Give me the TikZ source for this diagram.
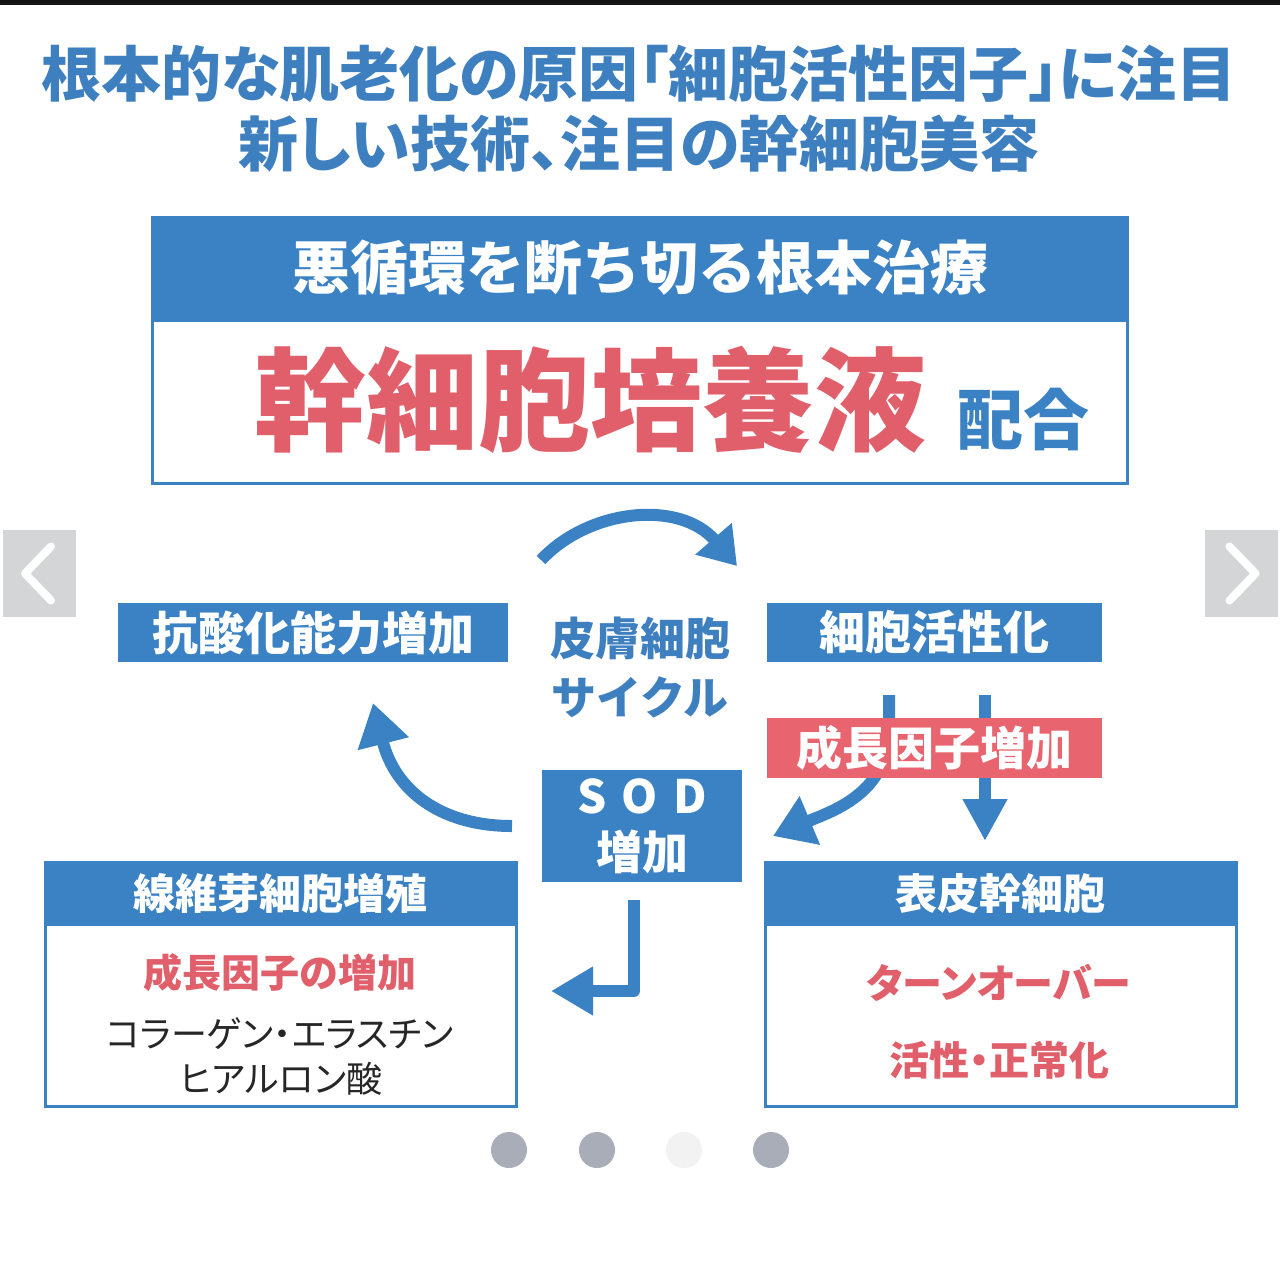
\documentclass[tikz,border=0pt]{standalone}
\usepackage{fontspec}
\setmainfont{Noto Sans CJK JP}
\usetikzlibrary{arrows.meta,calc}
\newdimen\px \px=0.5pt
\definecolor{cblue}{HTML}{3A82C4}
\definecolor{tblue}{HTML}{3D7FBF}
\definecolor{cred}{HTML}{E8656F}
\definecolor{tred}{HTML}{E05F6A}
\definecolor{navgray}{HTML}{D4D5D7}
\definecolor{dotgray}{HTML}{A9ADB8}
\pgfdeclarelayer{back}
\pgfdeclarelayer{bg}
\pgfsetlayers{back,bg,main}
\tikzset{
  fs/.style={font=\fontsize{#1}{#1}\selectfont\bfseries},
  bluebox/.style={fill=cblue, text=white, inner sep=0pt},
  redbox/.style={fill=cred, text=white, inner sep=0pt},
  bodybox/.style={fill=white, draw=cblue, line width=1.5pt, inner sep=0pt},
  flow/.style={draw=cblue, line width=6pt},
  navbtn/.style={fill=navgray, inner sep=0pt, minimum width=36.5pt, minimum height=43.5pt},
  chev/.style={draw=white, line width=4pt, line cap=round, line join=round},
  pdot/.style={circle, fill=dotgray, inner sep=0pt, minimum size=18pt},
  palt/.style={font=\fontsize{#1}{#1}\selectfont\addfontfeatures{RawFeature=+palt}}
}
\begin{document}
\begin{tikzpicture}[x=0.5pt,y=-0.5pt]
\useasboundingbox (0,0) rectangle (1280,1280);
\begin{pgfonlayer}{back}
\fill[white] (0,0) rectangle (1280,1280);
\fill[black!92] (0,0) rectangle (1280,5);
\end{pgfonlayer}

% title
\node[palt=30pt, text=tblue, inner sep=0pt] (t1) at (639,74) {\bfseries 根本的な肌老化の原因「細胞活性因子」に注目};
\node[palt=30pt, text=tblue, inner sep=0pt] (t2) at (639,144) {\bfseries 新しい技術、注目の幹細胞美容};

% main box
\node[bodybox, minimum width=975\px, minimum height=266\px] (mainbody) at (639.5,350) {};
\node[bluebox, minimum width=975\px, minimum height=105\px] (mainhead) at (639.5,269.5) {};
\node[fs=29pt, text=white, inner sep=0pt] (mainheadtxt) at (640,268) {悪循環を断ち切る根本治療};
\node[fs=56pt, text=tred, inner sep=0pt] (big) at (590,400) {幹細胞培養液};
\node[fs=33pt, text=cblue, inner sep=0pt] (mix) at (1023,420) {配合};

% cycle nodes
\node[bluebox, minimum width=390\px, minimum height=59\px, fs=23pt] (anti) at (313,632.5) {抗酸化能力増加};
\node[bluebox, minimum width=335\px, minimum height=59\px, fs=23pt] (act) at (934.5,632.5) {細胞活性化};
\node[align=center, text=tblue, fs=22.5pt, inner sep=0pt] (cyc) at (640,667) {皮膚細胞\\[7pt]サイクル};
\node[bluebox, minimum width=200\px, minimum height=112\px, fs=23pt, align=center] (sod) at (642,826) {S\,\,O\,\,D\\[5pt]増加};
\node[redbox, minimum width=335\px, minimum height=60\px, fs=23pt] (gf) at (934.5,748) {成長因子増加};

% bottom boxes
\node[bodybox, minimum width=471\px, minimum height=244\px] (fibbody) at (280.5,984) {};
\node[bluebox, minimum width=471\px, minimum height=64\px, fs=21pt] (fib) at (280.5,894) {線維芽細胞増殖};
\node[palt=19.5pt, text=tred, inner sep=0pt] (fib1) at (280,973) {\bfseries 成長因子の増加};
\node[palt=18pt, text=black!85, inner sep=0pt] (fib2) at (280,1034) {コラーゲン・エラスチン};
\node[palt=18pt, text=black!85, inner sep=0pt] (fib3) at (281,1079) {ヒアルロン酸};

\node[bodybox, minimum width=471\px, minimum height=244\px] (epibody) at (1000.5,984) {};
\node[bluebox, minimum width=471\px, minimum height=64\px, fs=21pt] (epi) at (1000.5,894) {表皮幹細胞};
\node[palt=20pt, text=tred, inner sep=0pt] (epi1) at (999,983) {\bfseries ターンオーバー};
\node[palt=20pt, text=tred, inner sep=0pt] (epi2) at (999,1060) {\bfseries 活性・正常化};

% connectors
\coordinate (arcS) at (541,560);
\coordinate (arcE) at (737,566);
\coordinate (actL) at (889,695);
\coordinate (actR) at (985,695);
\coordinate (toSod) at (773,836);
\coordinate (toEpi) at (985,841);
\coordinate (sodOutL) at (512,826);
\coordinate (toAnti) at (373,703);
\coordinate (sodDown) at (634,900);
\coordinate (toFib) at (551,991);

\begin{pgfonlayer}{bg}
\draw[flow, -{Triangle[length=18pt,width=23pt]}] (arcS) .. controls (590,508) and (680,500) .. (arcE);
\draw[flow, -{Triangle[length=20pt,width=25pt]}] (actL) -- ($(actL)+(0,40)$) .. controls (885,795) and (830,812) .. (toSod);
\draw[flow, -{Triangle[length=21pt,width=21pt]}] (actR) -- (toEpi);
\draw[flow, -{Triangle[length=21pt,width=25pt]}] (sodOutL) .. controls (440,826) and (395,790) .. (toAnti);
\draw[flow, line join=round, -{Triangle[length=21pt,width=23pt]}] (sodDown) -- (634,991) -- (toFib);
\end{pgfonlayer}

% nav buttons
\node[navbtn] (navL) at (39,573.5) {};
\draw[chev] ($(navL.center)+(12,-27)$) -- ($(navL.center)+(-14,0)$) -- ($(navL.center)+(12,27)$);
\node[navbtn] (navR) at (1241.5,573.5) {};
\draw[chev] ($(navR.center)+(-12,-27)$) -- ($(navR.center)+(14,0)$) -- ($(navR.center)+(-12,27)$);

% pager dots
\node[pdot] (d1) at (509,1150) {};
\node[pdot] (d2) at (597,1150) {};
\node[pdot, fill=black!5] (d3) at (684,1150) {};
\node[pdot] (d4) at (771,1150) {};
\end{tikzpicture}
\end{document}
